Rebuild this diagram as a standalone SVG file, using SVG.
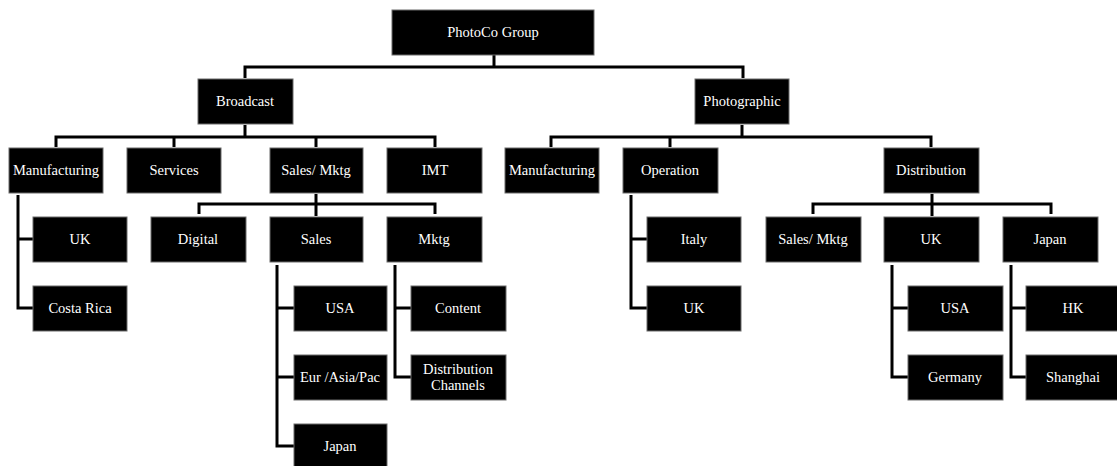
<svg xmlns="http://www.w3.org/2000/svg" width="1117" height="466" viewBox="0 0 1117 466">
  <style>
    .box rect { fill: #000; stroke: #6a6a6a; stroke-width: 1; }
    .box text { fill: #fff; font-family: "Liberation Serif", "Times New Roman", serif; font-size: 14.5px; text-anchor: middle; }
    #connectors path { fill: none; stroke: #000; stroke-width: 3; stroke-linejoin: miter; stroke-linecap: butt; }
  </style>
  <rect width="1117" height="466" fill="#fff"/>

  <g id="connectors">
    <!-- group to divisions -->
    <path d="M494,55 V67"/>
    <path d="M245,78 V67 H743 V78"/>
    <!-- Broadcast to its units -->
    <path d="M245,125 V137"/>
    <path d="M56,147 V137 H435 V147"/>
    <path d="M174,137 V147"/>
    <path d="M316,137 V147"/>
    <!-- Photographic to its units -->
    <path d="M742,125 V137"/>
    <path d="M551,147 V137 H931 V147"/>
    <path d="M670,137 V147"/>
    <!-- Sales/ Mktg to its teams -->
    <path d="M316,194 V216"/>
    <path d="M199,214 V204 H435 V214"/>
    <!-- Distribution to its regions -->
    <path d="M932,194 V216"/>
    <path d="M813,214 V204 H1051 V214"/>
    <!-- Manufacturing sites -->
    <path d="M18,195 V308 H33"/>
    <path d="M18,239 H33"/>
    <!-- Operation sites -->
    <path d="M631,195 V308 H647"/>
    <path d="M631,239 H647"/>
    <!-- Sales regions -->
    <path d="M277,265 V446 H294"/>
    <path d="M277,308 H294"/>
    <path d="M277,377 H294"/>
    <!-- Mktg areas -->
    <path d="M395,265 V377 H411"/>
    <path d="M395,308 H411"/>
    <!-- UK distribution -->
    <path d="M892,265 V377 H908"/>
    <path d="M892,308 H908"/>
    <!-- Japan distribution -->
    <path d="M1011,265 V377 H1026"/>
    <path d="M1011,308 H1026"/>
  </g>

  <g id="photoco-group" class="box"><rect x="392" y="10" width="202" height="45"/><text x="493" y="37">PhotoCo Group</text></g>

  <g id="broadcast" class="box"><rect x="198" y="79" width="95" height="45"/><text x="245" y="106">Broadcast</text></g>
  <g id="photographic" class="box"><rect x="695" y="79" width="94" height="45"/><text x="742" y="106">Photographic</text></g>

  <g id="b-manufacturing" class="box"><rect x="9" y="148" width="94" height="45"/><text x="56" y="175">Manufacturing</text></g>
  <g id="b-services" class="box"><rect x="127" y="148" width="94" height="45"/><text x="174" y="175">Services</text></g>
  <g id="b-sales-mktg" class="box"><rect x="270" y="148" width="93" height="45"/><text x="316" y="175">Sales/ Mktg</text></g>
  <g id="b-imt" class="box"><rect x="387" y="148" width="95" height="45"/><text x="435" y="175">IMT</text></g>
  <g id="p-manufacturing" class="box"><rect x="505" y="148" width="94" height="45"/><text x="552" y="175">Manufacturing</text></g>
  <g id="p-operation" class="box"><rect x="623" y="148" width="95" height="45"/><text x="670" y="175">Operation</text></g>
  <g id="p-distribution" class="box"><rect x="884" y="148" width="95" height="45"/><text x="931" y="175">Distribution</text></g>

  <g id="bm-uk" class="box"><rect x="33" y="217" width="94" height="45"/><text x="80" y="244">UK</text></g>
  <g id="bm-costa-rica" class="box"><rect x="33" y="286" width="94" height="45"/><text x="80" y="313">Costa Rica</text></g>

  <g id="bs-digital" class="box"><rect x="151" y="217" width="95" height="45"/><text x="198" y="244">Digital</text></g>
  <g id="bs-sales" class="box"><rect x="270" y="217" width="93" height="45"/><text x="316" y="244">Sales</text></g>
  <g id="bs-mktg" class="box"><rect x="387" y="217" width="95" height="45"/><text x="434" y="244">Mktg</text></g>

  <g id="sales-usa" class="box"><rect x="294" y="286" width="93" height="45"/><text x="340" y="313">USA</text></g>
  <g id="sales-eur-asia-pac" class="box"><rect x="294" y="355" width="93" height="45"/><text x="340" y="382">Eur /Asia/Pac</text></g>
  <g id="sales-japan" class="box"><rect x="294" y="424" width="93" height="45"/><text x="340" y="451">Japan</text></g>

  <g id="mktg-content" class="box"><rect x="411" y="286" width="95" height="45"/><text x="458" y="313">Content</text></g>
  <g id="mktg-distribution-channels" class="box"><rect x="411" y="355" width="95" height="45"/><text x="458" y="374">Distribution</text><text x="458" y="390">Channels</text></g>

  <g id="op-italy" class="box"><rect x="647" y="217" width="94" height="45"/><text x="694" y="244">Italy</text></g>
  <g id="op-uk" class="box"><rect x="647" y="286" width="94" height="45"/><text x="694" y="313">UK</text></g>

  <g id="d-sales-mktg" class="box"><rect x="766" y="217" width="95" height="45"/><text x="813" y="244">Sales/ Mktg</text></g>
  <g id="d-uk" class="box"><rect x="884" y="217" width="95" height="45"/><text x="931" y="244">UK</text></g>
  <g id="d-japan" class="box"><rect x="1003" y="217" width="95" height="45"/><text x="1050" y="244">Japan</text></g>

  <g id="uk-usa" class="box"><rect x="908" y="286" width="95" height="45"/><text x="955" y="313">USA</text></g>
  <g id="uk-germany" class="box"><rect x="908" y="355" width="95" height="45"/><text x="955" y="382">Germany</text></g>

  <g id="japan-hk" class="box"><rect x="1026" y="286" width="95" height="45"/><text x="1073" y="313">HK</text></g>
  <g id="japan-shanghai" class="box"><rect x="1026" y="355" width="95" height="45"/><text x="1073" y="382">Shanghai</text></g>
</svg>
